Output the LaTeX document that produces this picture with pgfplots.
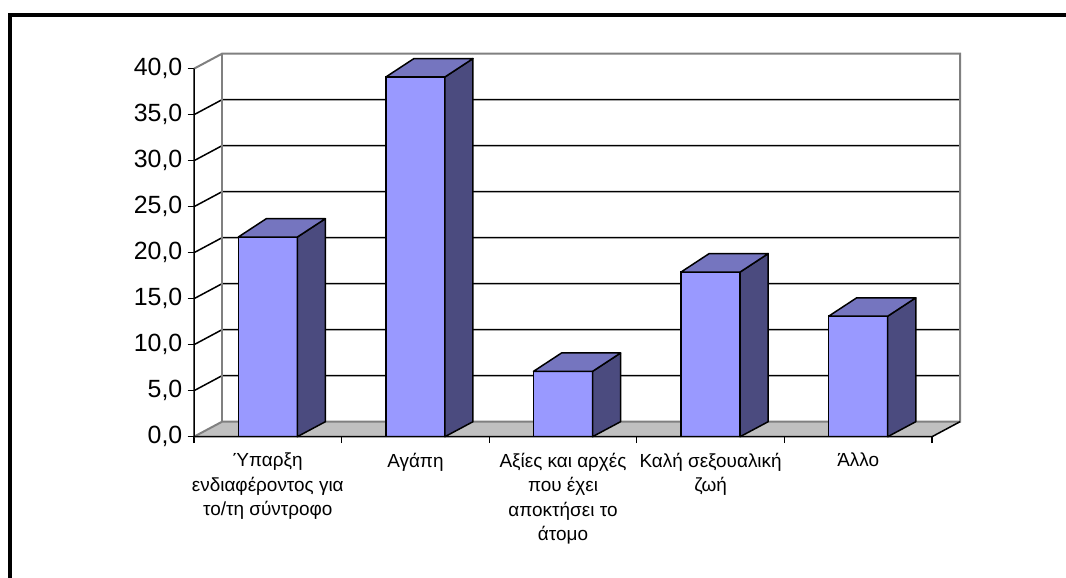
\documentclass[border=0pt]{standalone}
\usepackage{fontspec}
\setmainfont{Liberation Sans}
\usepackage{pgfplots}
\usepackage{pgfplotstable}
\pgfplotsset{compat=1.18}

\definecolor{barfront}{RGB}{153,153,255}
\definecolor{bartop}{RGB}{117,117,191}
\definecolor{barside}{RGB}{75,75,127}
\definecolor{floorgray}{RGB}{192,192,192}
\definecolor{edgegray}{RGB}{128,128,128}

% share of answers per category (%)
\pgfplotstableread{
x v
0 21.7
1 39.1
2 7.1
3 17.9
4 13.1
}\answers

% oblique depth of the 3-D box (axis units)
\def\dx{0.19}
\def\dy{1.63}
\def\dytop{2.0}

\begin{document}
\begin{tikzpicture}
\useasboundingbox (0,0) rectangle (1066bp,578bp);
% chart-area frame
\draw[line width=4bp] (10.3bp,-5bp) -- (10.3bp,562.7bp) -- (1075bp,562.7bp);

\begin{axis}[
  at={(194bp,141.3bp)}, anchor=south west,
  x=147.6bp, y=9.2bp,
  xmin=-0.5, xmax=4.69, ymin=0, ymax=41.63,
  clip=false,
  axis line style={draw=none},
  tick align=outside,
  xtick pos=lower, ytick pos=left,
  major tick length=6.5bp,
  tick style={black, line width=1.2bp},
  ytick={0,5,...,40},
  yticklabel style={font=\fontsize{25}{30}\selectfont, inner xsep=5bp,
    /pgf/number format/fixed, /pgf/number format/fixed zerofill,
    /pgf/number format/precision=1, /pgf/number format/use comma,
    /pgf/number format/assume math mode=true},
  xtick={-0.5,0.5,1.5,2.5,3.5,4.5},
  xticklabels={},
  extra x ticks={0,1,2,3,4},
  extra x tick labels={
    {Ύπαρξη\\ενδιαφέροντος για\\το/τη σύντροφο},
    {Αγάπη},
    {Αξίες και αρχές\\που έχει\\αποκτήσει το\\άτομο},
    {Καλή σεξουαλική\\ζωή},
    {Άλλο}},
  extra x tick style={major tick length=0pt},
  xticklabel style={align=center, font=\fontsize{19}{24.5}\selectfont,
    text depth=0pt, yshift=-13bp},
]

% floor
\addplot[fill=floorgray, draw=none]
  coordinates {(-0.5,0) (4.5,0) (4.69,1.63) (-0.31,1.63)} -- cycle;

% walls: gridlines on the left and back wall
\addplot[black, line width=1.5bp, unbounded coords=jump] coordinates {
  (-0.5,5)  (-0.31,6.63)  (4.69,6.63)  (nan,nan)
  (-0.5,10) (-0.31,11.63) (4.69,11.63) (nan,nan)
  (-0.5,15) (-0.31,16.63) (4.69,16.63) (nan,nan)
  (-0.5,20) (-0.31,21.63) (4.69,21.63) (nan,nan)
  (-0.5,25) (-0.31,26.63) (4.69,26.63) (nan,nan)
  (-0.5,30) (-0.31,31.63) (4.69,31.63) (nan,nan)
  (-0.5,35) (-0.31,36.63) (4.69,36.63)
};
% wall edges
\addplot[edgegray, line width=2bp]
  coordinates {(-0.5,40) (-0.31,41.63) (4.69,41.63) (4.69,1.63) (-0.31,1.63) (-0.5,0)};
\addplot[edgegray, line width=2bp]
  coordinates {(-0.31,1.63) (-0.31,41.63)};

% front faces of the columns
\addplot[ybar, bar width=0.4, bar shift=0pt, fill=barfront, draw=black,
  line width=1.5bp] table[x=x, y=v] {\answers};

% side and top faces of the columns
\pgfplotsinvokeforeach{0,...,4}{
  \pgfplotstablegetelem{#1}{v}\of\answers
  \pgfmathsetmacro\va{\pgfplotsretval}
  \pgfmathsetmacro\vb{\pgfplotsretval+\dytop}
  \pgfmathsetmacro\xl{#1-0.2}
  \pgfmathsetmacro\xr{#1+0.2}
  \pgfmathsetmacro\xlb{#1-0.2+\dx}
  \pgfmathsetmacro\xrb{#1+0.2+\dx}
  \edef\sideface{\noexpand\addplot[fill=barside, draw=black, line width=1.5bp, line join=round]
    coordinates {(\xr,0) (\xrb,\dy) (\xrb,\vb) (\xr,\va)} -- cycle;}
  \sideface
  \edef\topface{\noexpand\addplot[fill=bartop, draw=black, line width=1.5bp, line join=round]
    coordinates {(\xl,\va) (\xr,\va) (\xrb,\vb) (\xlb,\vb)} -- cycle;}
  \topface
}

% front edges: value axis, floor front and right edge
\addplot[black, line width=1.5bp] coordinates {(-0.5,40) (-0.5,0) (4.5,0) (4.69,1.63)};
\end{axis}
\end{tikzpicture}
\end{document}
